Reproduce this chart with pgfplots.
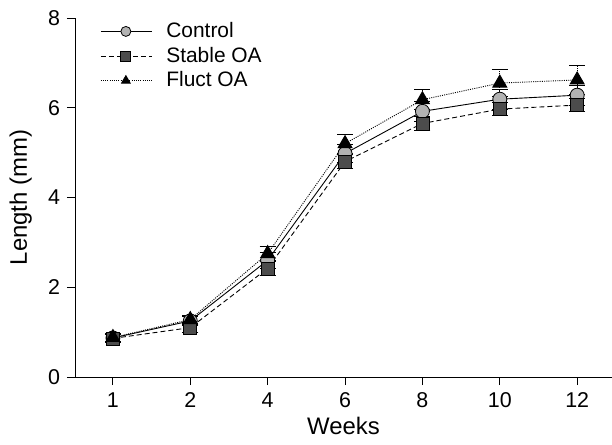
\documentclass[border=0pt]{standalone}
\usepackage{pgfplots}
\pgfplotsset{compat=1.18}
\usepackage{pgfplotstable}
\usepackage{fontspec}
\setmainfont{Liberation Sans}
\pgfplotstableread{
x y e
0 0.87 0.08
1 1.25 0.10
2 2.60 0.18
3 4.98 0.20
4 5.92 0.22
5 6.19 0.22
6 6.28 0.22
}\control
\pgfplotstableread{
x y e
0 0.86 0.08
1 1.10 0.10
2 2.42 0.15
3 4.80 0.15
4 5.65 0.15
5 5.97 0.15
6 6.06 0.15
}\stable
\pgfplotstableread{
x y e
0 0.88 0.08
1 1.28 0.10
2 2.75 0.15
3 5.20 0.21
4 6.18 0.23
5 6.55 0.31
6 6.62 0.33
}\fluct
\begin{document}
\fontsize{20}{24}\selectfont
\begin{tikzpicture}
\useasboundingbox (-75bp,-68bp) rectangle (537bp,377bp);
\begin{axis}[
  scale only axis, width=537bp, height=359bp,
  xmin=-0.49, xmax=6.45, ymin=0, ymax=8,
  clip=false,
  axis x line*=bottom, axis y line*=left,
  axis line style={black, line width=1pt},
  tick align=outside, major tick length=8bp,
  every tick/.style={black, line width=1pt},
  xtick={0,1,2,3,4,5,6}, xticklabels={1,2,4,6,8,10,12},
  ytick={0,2,4,6,8},
  /pgf/number format/assume math mode=true,
  ticklabel style={font=\fontsize{21.5}{24}\selectfont},
  xticklabel style={yshift=-1bp},
  label style={font=\fontsize{24}{28}\selectfont},
  xlabel={Weeks}, ylabel={Length (mm)},
  xlabel style={yshift=4bp},
  ylabel style={yshift=3bp},
  legend style={draw=none, fill=none, at={(axis description cs:0.047,0.994)}, anchor=north west,
    font=\fontsize{21}{24}\selectfont, row sep=2.5bp, inner sep=0pt,
    /tikz/every odd column/.append style={column sep=12bp}},
  legend cell align=left,
  legend image code/.code={\draw[#1, mark repeat=2, mark phase=2, mark size=5bp] plot coordinates {(0bp,0bp) (25bp,0bp) (51bp,0bp)};},
  every axis plot/.append style={black, error bars/error bar style={black, line width=1pt}, error bars/error mark options={rotate=90, mark size=8bp, line width=1pt}},
]
\draw[black, line width=1pt] (axis cs:-0.59,0) -- (axis cs:-0.49,0);
\addplot[solid, line width=0.9pt, mark=*, mark size=7bp, mark options={solid, fill=black!30, draw=black, line width=0.8pt},
  error bars/.cd, y dir=both, y explicit] table[x=x, y=y, y error=e] {\control};
\addlegendentry{Control}
\addplot[dashed, dash pattern=on 5bp off 3bp, line width=0.9pt, mark=square*, mark size=6.5bp, mark options={solid, fill=black!70, draw=black, line width=0.8pt},
  error bars/.cd, y dir=both, y explicit] table[x=x, y=y, y error=e] {\stable};
\addlegendentry{Stable OA}
\addplot[dotted, dash pattern=on 1bp off 1.2bp, line width=0.9pt, mark=triangle*, mark size=8bp, mark options={solid, fill=black, draw=black},
  error bars/.cd, y dir=both, y explicit] table[x=x, y=y, y error=e] {\fluct};
\addlegendentry{Fluct OA}
\end{axis}
\end{tikzpicture}
\end{document}
